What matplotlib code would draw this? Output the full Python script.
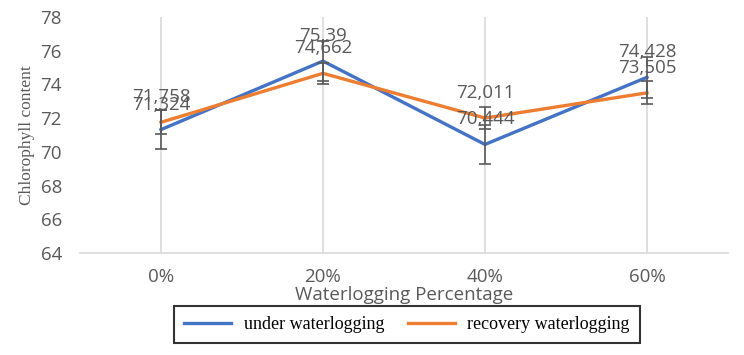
import numpy as np
import matplotlib.pyplot as plt

# Datos
categorias = ['0%', '20%', '40%', '60%']
bajo_inundacion = [71.324, 75.39, 70.444, 74.428]
recuperacion = [71.758, 74.662, 72.011, 73.505]
error_bajo = [1.17, 1.2, 1.15, 1.2]
error_recup = [0.72, 0.63, 0.65, 0.68]

azul = '#4472C4'
naranja = '#ED7D31'
gris = '#595959'

fig = plt.figure(figsize=(7.44, 3.55), dpi=100)
ax = fig.add_axes([0.1075, 0.287, 0.871, 0.665])

x = np.arange(len(categorias))

ax.plot(x, bajo_inundacion, color=azul, lw=2.4, label='under waterlogging', zorder=3)
ax.plot(x, recuperacion, color=naranja, lw=2.4, label='recovery waterlogging', zorder=3)
ax.errorbar(x, bajo_inundacion, yerr=error_bajo, fmt='none', ecolor=gris,
            elinewidth=1.2, capsize=4, capthick=1.2, zorder=4)
ax.errorbar(x, recuperacion, yerr=error_recup, fmt='none', ecolor=gris,
            elinewidth=1.2, capsize=4, capthick=1.2, zorder=4)

# Etiquetas de datos con coma decimal
def etiqueta(v):
    return ('%g' % v).replace('.', ',')

for serie in (bajo_inundacion, recuperacion):
    for xi, v in zip(x, serie):
        ax.annotate(etiqueta(v), (xi, v), xytext=(0, 18), textcoords='offset points',
                    ha='center', va='center', fontsize=13.5, color=gris,
                    family='Open Sans', zorder=5)

ax.set_xlim(-0.5, len(categorias) - 0.5)
ax.set_ylim(64, 78)
ax.set_yticks(np.arange(64, 79, 2))
ax.set_xticks(x)
ax.set_xticklabels(categorias)
ax.grid(axis='x', color='#D9D9D9', lw=1.2, zorder=0)
for s in ['top', 'right', 'left']:
    ax.spines[s].set_visible(False)
ax.spines['bottom'].set_color('#D9D9D9')
ax.spines['bottom'].set_linewidth(1.2)
ax.tick_params(length=0, labelsize=13.5, labelcolor=gris)
ax.tick_params(axis='x', pad=11)
ax.tick_params(axis='y', pad=13)
for lbl in ax.get_xticklabels() + ax.get_yticklabels():
    lbl.set_family('Open Sans')

ax.set_ylabel('Chlorophyll content', family='Liberation Serif', fontsize=12.5,
              color=gris, labelpad=4)
ax.set_xlabel('Waterlogging Percentage', family='Open Sans', fontsize=13.5,
              color=gris, labelpad=0)

leg = fig.legend(loc='center', bbox_to_anchor=(0.547, 0.085), ncol=2,
                 frameon=True, fancybox=False, edgecolor='black',
                 prop={'family': 'Liberation Serif', 'size': 13},
                 handlelength=2.6, handletextpad=0.7, columnspacing=1.3,
                 borderpad=0.55)
leg.get_frame().set_linewidth(1.5)

fig.savefig('out.png', dpi=100)
